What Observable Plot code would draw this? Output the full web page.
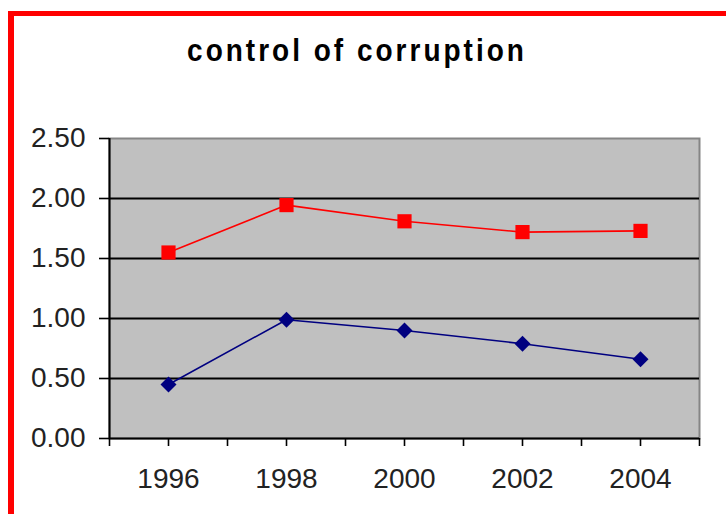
<!DOCTYPE html>
<html>
<head>
<meta charset="utf-8">
<script src="https://cdn.jsdelivr.net/npm/d3@7"></script>
<script src="https://cdn.jsdelivr.net/npm/@observablehq/plot@0.6"></script>
<style>
  html, body { margin: 0; padding: 0; background: #ffffff; }
  #wrap { position: relative; width: 726px; height: 514px; overflow: hidden; background: #ffffff; }
  #border { position: absolute; left: 8px; top: 11px; width: 800px; height: 600px;
            border-left: 6px solid #ff0000; border-top: 5px solid #ff0000; }
  #title { position: absolute; left: -6px; top: 38px; width: 726px; text-align: center;
           font-family: "Liberation Sans", Arial, sans-serif; font-weight: bold; font-size: 28px;
           line-height: 28px; letter-spacing: 3px; color: #000000;
           transform: scaleY(1.12); transform-origin: 50% 85%; }
  #chart { position: absolute; left: 0; top: 80px; }
</style>
</head>
<body>
<div id="wrap">
  <div id="border"></div>
  <div id="title">control of corruption</div>
  <div id="chart"></div>
</div>
<script>
// Data
const years = [1996, 1998, 2000, 2002, 2004];
const redSeries = [1.55, 1.945, 1.81, 1.72, 1.73];
const blueSeries = [0.45, 0.99, 0.90, 0.79, 0.66];

// Axis ticks
const xTickYears = [1995, 1996, 1997, 1998, 1999, 2000, 2001, 2002, 2003, 2004, 2005];
const xLabelYears = [1996, 1998, 2000, 2002, 2004];
const yTicks = [0, 0.5, 1, 1.5, 2, 2.5];
const gridValues = [0.5, 1, 1.5, 2];

const redData = years.map((y, i) => ({year: y, value: redSeries[i]}));
const blueData = years.map((y, i) => ({year: y, value: blueSeries[i]}));

const chart = Plot.plot({
  width: 726,
  height: 434,
  marginLeft: 109,
  marginRight: 27,
  marginTop: 58,
  marginBottom: 76,
  style: {
    fontFamily: "'Liberation Sans', Arial, sans-serif",
    fontSize: "28px",
    background: "transparent",
    overflow: "visible",
    color: "#222222"
  },
  x: {type: "linear", domain: [xTickYears[0], xTickYears[xTickYears.length - 1]], label: null},
  y: {domain: [yTicks[0], yTicks[yTicks.length - 1]], label: null},
  marks: [
    Plot.frame({fill: "#c0c0c0", stroke: "#858585", strokeWidth: 2}),
    Plot.ruleY(gridValues, {stroke: "#000000", strokeWidth: 1.8}),
    Plot.line(redData, {x: "year", y: "value", stroke: "#ff0000", strokeWidth: 1.6}),
    Plot.line(blueData, {x: "year", y: "value", stroke: "#000080", strokeWidth: 1.6}),
    Plot.dot(redData, {x: "year", y: "value", symbol: "square", r: 8, fill: "#ff0000", stroke: "none"}),
    Plot.dot(blueData, {x: "year", y: "value", symbol: "diamond2", r: 7.2, fill: "#000080", stroke: "none"}),
    Plot.axisY({ticks: yTicks, tickFormat: d3.format(".2f"), tickSize: 10, tickPadding: 14,
                stroke: "#000000", strokeWidth: 1.6, label: null}),
    Plot.axisX({ticks: xTickYears, tickSize: 8, tickPadding: 22, stroke: "#000000", strokeWidth: 1.6, label: null,
                tickFormat: d => xLabelYears.includes(d) ? String(d) : ""}),
    Plot.ruleX([xTickYears[0]], {stroke: "#000000", strokeWidth: 2}),
    Plot.ruleY([yTicks[0]], {stroke: "#000000", strokeWidth: 2})
  ]
});
document.getElementById("chart").appendChild(chart);
</script>
</body>
</html>
